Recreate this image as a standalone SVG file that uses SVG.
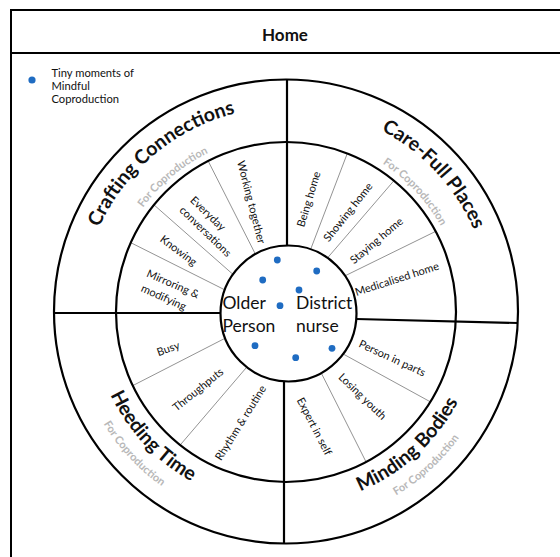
<svg xmlns="http://www.w3.org/2000/svg" xmlns:xlink="http://www.w3.org/1999/xlink" width="560" height="557" viewBox="0 0 560 557">
  <style>
    text { font-family: Lato, "Liberation Sans", sans-serif; fill: #111; }
    .frame { fill: none; stroke: #000; stroke-width: 2; }
    .ring { fill: none; stroke: #000; stroke-width: 2.2; }
    .axis { stroke: #000; stroke-width: 2.2; }
    .div { stroke: #777; stroke-width: 0.8; }
    .title { font-size: 17px; font-weight: bold; }
    .theme { font-size: 19.5px; font-weight: bold; }
    .sub { font-size: 11px; font-weight: bold; fill: #b8b8b8; }
    .lbl { font-size: 11px; text-anchor: middle; dominant-baseline: central; }
    .core { font-size: 17.5px; }
    .legend { font-size: 11.2px; }
    .dot { fill: #1f6cc2; }
  </style>
  <defs>
    <!-- arcs centred on (286,312) that carry the curved theme names -->
    <path id="arcCraft" d="M81.77,294.13 A205,205 0 0 1 303.87,107.77"/>
    <path id="arcCraftSub" d="M109.67,296.57 A177,177 0 0 1 301.43,135.67"/>
    <path id="arcCare" d="M293.15,107.12 A205,205 0 0 1 490.88,319.15"/>
    <path id="arcCareSub" d="M292.18,135.11 A177,177 0 0 1 462.89,318.18"/>
    <path id="arcHeed" d="M92.12,305.23 A194,194 0 0 0 279.23,505.88"/>
    <path id="arcHeedSub" d="M72.13,304.53 A214,214 0 0 0 278.53,525.87"/>
    <path id="arcMind" d="M277.54,505.82 A194,194 0 0 0 479.82,320.46"/>
    <path id="arcMindSub" d="M276.67,525.80 A214,214 0 0 0 499.80,321.33"/>
  </defs>

  <!-- page frame and header -->
  <g id="header">
    <rect class="frame" x="11" y="10" width="600" height="600"/>
    <line class="frame" x1="11" y1="53" x2="560" y2="53"/>
    <text class="title" x="285" y="40.5" text-anchor="middle">Home</text>
  </g>

  <!-- legend -->
  <g id="legend">
    <circle class="dot" cx="32" cy="80" r="3.6"/>
    <text class="legend" x="51.5" y="76.5">Tiny moments of</text>
    <text class="legend" x="51.5" y="89.5">Mindful</text>
    <text class="legend" x="51.5" y="103">Coproduction</text>
  </g>

  <!-- connectors: quadrant axes and segment dividers -->
  <g id="connectors">
    <line class="div" x1="208.1" y1="160.9" x2="255.4" y2="254.1"/>
    <line class="div" x1="154.0" y1="204.9" x2="232.9" y2="274.3"/>
    <line class="div" x1="130.8" y1="242.7" x2="224.7" y2="289.8"/>
    <line class="div" x1="347.3" y1="153.4" x2="310.7" y2="249.2"/>
    <line class="div" x1="394.0" y1="180.6" x2="327.6" y2="257.8"/>
    <line class="div" x1="435.6" y1="231.4" x2="345.1" y2="275.8"/>
    <line class="div" x1="132.8" y1="385.6" x2="225.2" y2="338.2"/>
    <line class="div" x1="180.2" y1="445.0" x2="246.7" y2="367.2"/>
    <line class="div" x1="430.3" y1="401.8" x2="343.2" y2="354.0"/>
    <line class="div" x1="366.1" y1="462.0" x2="321.3" y2="373.1"/>
    <line class="axis" x1="287" y1="80" x2="287" y2="246"/>
    <line class="axis" x1="284" y1="381" x2="284" y2="543.5"/>
    <line class="axis" x1="54" y1="313" x2="220.5" y2="313"/>
    <line class="axis" x1="356.3" y1="319" x2="517.7" y2="323"/>
  </g>

  <!-- rings -->
  <g id="rings">
    <circle class="ring" cx="286" cy="311.5" r="232"/>
    <circle class="ring" cx="286" cy="312" r="170"/>
  </g>

  <!-- centre node -->
  <g id="centre">
    <circle class="ring" cx="288.5" cy="313.5" r="68"/>
    <text class="core" x="222.5" y="309">Older</text>
    <text class="core" x="222.5" y="331.5">Person</text>
    <text class="core" x="296" y="309">District</text>
    <text class="core" x="296" y="331.5">nurse</text>
    <circle class="dot" cx="277.3" cy="260" r="3.4"/>
    <circle class="dot" cx="316.7" cy="271" r="3.4"/>
    <circle class="dot" cx="262.7" cy="280" r="3.4"/>
    <circle class="dot" cx="299" cy="290" r="3.4"/>
    <circle class="dot" cx="280" cy="305.7" r="3.4"/>
    <circle class="dot" cx="255" cy="345.7" r="3.4"/>
    <circle class="dot" cx="332" cy="348.3" r="3.4"/>
    <circle class="dot" cx="295.7" cy="357.7" r="3.4"/>
  </g>

  <!-- Crafting Connections quadrant -->
  <g id="crafting-connections">
    <text class="theme"><textPath xlink:href="#arcCraft" startOffset="50%" text-anchor="middle">Crafting Connections</textPath></text>
    <text class="sub"><textPath xlink:href="#arcCraftSub" startOffset="50%" text-anchor="middle">For Coproduction</textPath></text>
    <text class="lbl" transform="translate(252,202) rotate(75.5)">Working together</text>
    <text class="lbl" transform="translate(208.5,213) rotate(44)">Everyday</text>
    <text class="lbl" transform="translate(206,231) rotate(44)">conversations</text>
    <text class="lbl" transform="translate(179,250) rotate(37)">Knowing</text>
    <text class="lbl" transform="translate(173.3,283.3) rotate(23.6)">Mirroring &amp;</text>
    <text class="lbl" transform="translate(164,296.7) rotate(24)">modifying</text>
  </g>

  <!-- Care-Full Places quadrant -->
  <g id="care-full-places">
    <text class="theme"><textPath xlink:href="#arcCare" startOffset="50%" text-anchor="middle">Care-Full Places</textPath></text>
    <text class="sub"><textPath xlink:href="#arcCareSub" startOffset="50%" text-anchor="middle">For Coproduction</textPath></text>
    <text class="lbl" transform="translate(308,199) rotate(-73)">Being home</text>
    <text class="lbl" transform="translate(347.5,211.7) rotate(-51.6)">Showing home</text>
    <text class="lbl" transform="translate(376,240) rotate(-40)">Staying home</text>
    <text class="lbl" transform="translate(396.7,278.3) rotate(-17.8)">Medicalised home</text>
  </g>

  <!-- Heeding Time quadrant -->
  <g id="heeding-time">
    <text class="theme"><textPath xlink:href="#arcHeed" startOffset="50%" text-anchor="middle">Heeding Time</textPath></text>
    <text class="sub"><textPath xlink:href="#arcHeedSub" startOffset="50%" text-anchor="middle">For Coproduction</textPath></text>
    <text class="lbl" transform="translate(168,348) rotate(-20)">Busy</text>
    <text class="lbl" transform="translate(197.5,389) rotate(-39)">Throughputs</text>
    <text class="lbl" transform="translate(240,422.5) rotate(-58)">Rhythm &amp; routine</text>
  </g>

  <!-- Minding Bodies quadrant -->
  <g id="minding-bodies">
    <text class="theme"><textPath xlink:href="#arcMind" startOffset="50%" text-anchor="middle">Minding Bodies</textPath></text>
    <text class="sub"><textPath xlink:href="#arcMindSub" startOffset="50%" text-anchor="middle">For Coproduction</textPath></text>
    <text class="lbl" transform="translate(392.5,357.5) rotate(24.8)">Person in parts</text>
    <text class="lbl" transform="translate(363,396) rotate(44)">Losing youth</text>
    <text class="lbl" transform="translate(315,426) rotate(62.8)">Expert in self</text>
  </g>
</svg>
